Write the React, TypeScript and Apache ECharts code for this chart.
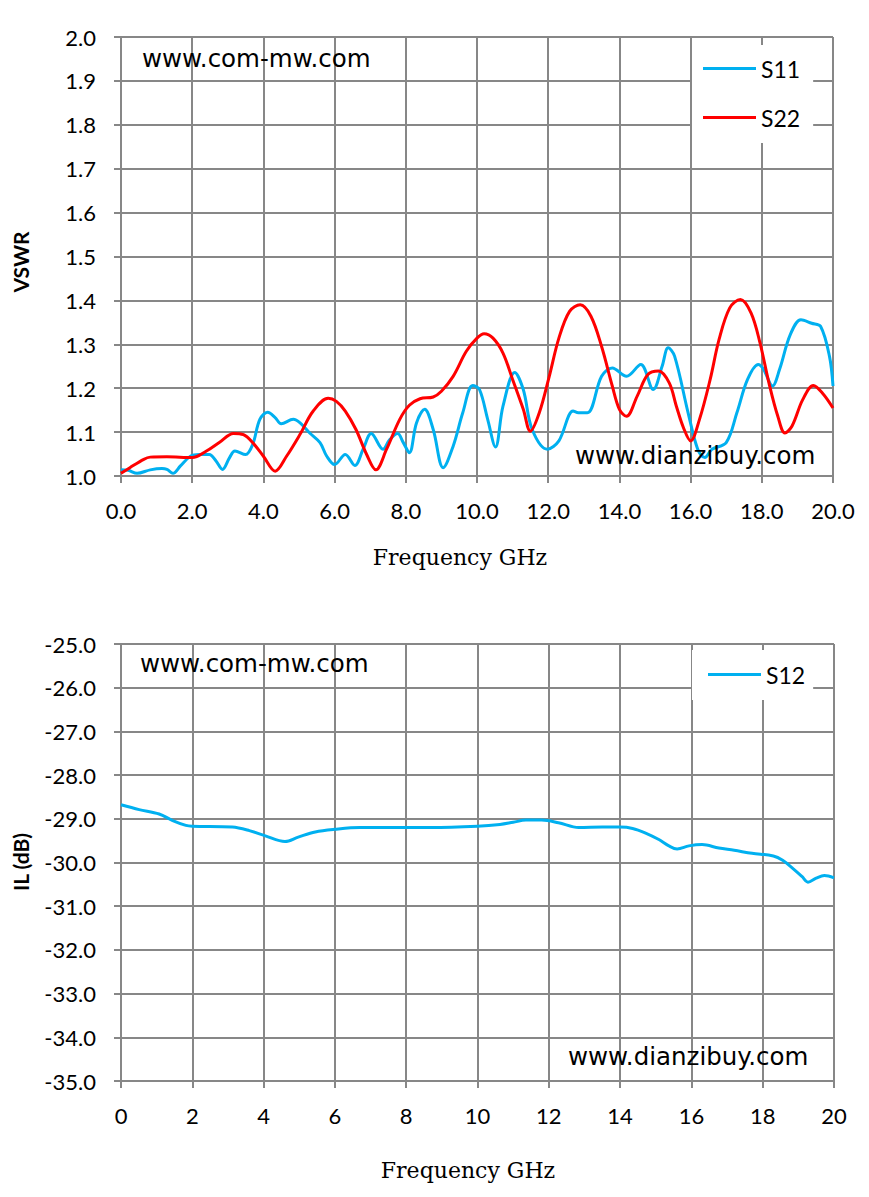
import React, { useEffect, useRef } from "react";
import * as echarts from "echarts";

// ---------- data ----------
const freqTicksTop = [0, 2, 4, 6, 8, 10, 12, 14, 16, 18, 20];
const vswrTicks = [1.0, 1.1, 1.2, 1.3, 1.4, 1.5, 1.6, 1.7, 1.8, 1.9, 2.0];
const ilTicks = [-35, -34, -33, -32, -31, -30, -29, -28, -27, -26, -25];

const s11Freq = [0, 0.2, 0.45, 0.82, 1.15, 1.29, 1.46, 1.67, 1.95, 2.2, 2.48, 2.67, 2.85, 3.05, 3.2, 3.5, 3.7, 3.9, 4.12, 4.33, 4.5, 4.84, 5.03, 5.3, 5.59, 5.78, 6.0, 6.3, 6.57, 6.8, 7.03, 7.36, 7.55, 7.77, 7.93, 8.1, 8.3, 8.53, 8.77, 9.05, 9.33, 9.6, 9.88, 10.07, 10.3, 10.52, 10.73, 11.06, 11.3, 11.55, 11.98, 12.3, 12.7, 12.85, 13.1, 13.5, 13.8, 14.2, 14.6, 14.95, 15.2, 15.37, 15.55, 15.93, 16.2, 16.4, 16.6, 17.0, 17.3, 17.6, 17.9, 18.05, 18.3, 18.5, 18.8, 19.1, 19.4, 19.65, 19.9, 20];
const s11Vals = [1.014, 1.013, 1.006, 1.014, 1.017, 1.015, 1.006, 1.023, 1.045, 1.049, 1.049, 1.034, 1.015, 1.042, 1.057, 1.049, 1.072, 1.129, 1.145, 1.133, 1.119, 1.129, 1.121, 1.098, 1.076, 1.045, 1.026, 1.049, 1.024, 1.061, 1.097, 1.061, 1.083, 1.097, 1.076, 1.053, 1.121, 1.152, 1.106, 1.019, 1.068, 1.144, 1.206, 1.197, 1.129, 1.066, 1.159, 1.236, 1.197, 1.106, 1.061, 1.08, 1.148, 1.144, 1.144, 1.227, 1.246, 1.227, 1.254, 1.197, 1.25, 1.292, 1.273, 1.144, 1.061, 1.042, 1.061, 1.076, 1.144, 1.22, 1.254, 1.243, 1.205, 1.243, 1.322, 1.356, 1.348, 1.341, 1.273, 1.205];

const s22Freq = [0, 0.25, 0.64, 0.82, 1.29, 2.0, 2.4, 2.77, 3.16, 3.44, 3.7, 4.0, 4.33, 4.65, 5.03, 5.4, 5.82, 6.05, 6.3, 6.6, 6.9, 7.16, 7.46, 7.83, 8.1, 8.4, 8.77, 9.0, 9.33, 9.7, 10.0, 10.2, 10.45, 10.73, 11.0, 11.3, 11.5, 11.75, 12.03, 12.3, 12.6, 12.9, 13.2, 13.5, 13.8, 14.0, 14.2, 14.5, 14.8, 15.1, 15.4, 15.6, 15.8, 16.0, 16.25, 16.55, 16.8, 17.1, 17.4, 17.7, 17.95, 18.2, 18.45, 18.65, 18.85, 19.15, 19.45, 19.7, 20];
const s22Vals = [1.006, 1.019, 1.038, 1.043, 1.044, 1.042, 1.057, 1.077, 1.097, 1.094, 1.076, 1.045, 1.011, 1.045, 1.095, 1.148, 1.177, 1.17, 1.148, 1.106, 1.049, 1.014, 1.061, 1.129, 1.161, 1.176, 1.18, 1.193, 1.227, 1.284, 1.314, 1.324, 1.314, 1.28, 1.22, 1.152, 1.102, 1.144, 1.227, 1.314, 1.375, 1.39, 1.364, 1.295, 1.205, 1.152, 1.136, 1.182, 1.231, 1.239, 1.212, 1.159, 1.11, 1.08, 1.129, 1.22, 1.311, 1.383, 1.402, 1.371, 1.303, 1.212, 1.136, 1.098, 1.114, 1.174, 1.206, 1.189, 1.155];

const s12Freq = [0, 0.51, 1.07, 1.45, 1.82, 2, 3.12, 3.6, 4.05, 4.6, 4.97, 5.45, 6, 6.7, 7.8, 8.7, 10, 10.63, 11, 11.36, 11.8, 12.27, 12.84, 13.5, 14, 14.35, 14.7, 15.1, 15.37, 15.6, 15.93, 16.3, 16.77, 17.2, 17.7, 18.3, 18.56, 18.85, 19.1, 19.27, 19.5, 19.73, 20];
const s12Vals = [-28.68, -28.79, -28.89, -29.04, -29.15, -29.17, -29.19, -29.27, -29.39, -29.52, -29.42, -29.3, -29.24, -29.2, -29.2, -29.2, -29.17, -29.13, -29.08, -29.03, -29.03, -29.09, -29.2, -29.19, -29.19, -29.22, -29.32, -29.48, -29.62, -29.69, -29.62, -29.59, -29.67, -29.72, -29.79, -29.85, -29.95, -30.14, -30.32, -30.45, -30.36, -30.3, -30.35];

const pairs = (xs: number[], ys: number[]) => xs.map((x, i) => [x, ys[i]]);

// ---------- styles ----------
const GRID_COLOR = "#878787";
const TICK_FONT = "Lato";
const BLUE = "#00B0F0";
const RED = "#FF0000";

function makeXAxis(gridIndex: number, decimals: number) {
  return {
    type: "value",
    gridIndex,
    min: freqTicksTop[0],
    max: freqTicksTop[freqTicksTop.length - 1],
    interval: freqTicksTop[1] - freqTicksTop[0],
    axisLine: { show: true, lineStyle: { color: GRID_COLOR, width: 2 } },
    axisTick: { show: true, length: 7, lineStyle: { color: GRID_COLOR, width: 2 } },
    splitLine: { show: true, lineStyle: { color: GRID_COLOR, width: 2 } },
    axisLabel: {
      margin: 23,
      fontFamily: TICK_FONT,
      fontSize: 22,
      color: "#000",
      formatter: (v: number) => v.toFixed(decimals),
    },
  };
}

function makeYAxis(gridIndex: number, ticks: number[]) {
  return {
    type: "value",
    gridIndex,
    min: ticks[0],
    max: ticks[ticks.length - 1],
    interval: ticks[1] - ticks[0],
    axisLine: { show: true, lineStyle: { color: GRID_COLOR, width: 2 } },
    axisTick: { show: true, length: 7, lineStyle: { color: GRID_COLOR, width: 2 } },
    splitLine: { show: true, lineStyle: { color: GRID_COLOR, width: 2 } },
    axisLabel: {
      margin: 25,
      fontFamily: TICK_FONT,
      fontSize: 22,
      color: "#000",
      formatter: (v: number) => v.toFixed(1),
    },
  };
}

export default function App() {
  const ref = useRef<HTMLDivElement>(null);

  useEffect(() => {
    if (!ref.current) return;
    const chart = echarts.init(ref.current, null, { renderer: "svg" });
    const wmFont = { fontFamily: "DejaVu Sans", fontSize: 24.5, fill: "#000" };
    const titleFont = {
      fontFamily: "DejaVu Serif",
      fontSize: 22,
      fill: "#000",
      align: "center",
      verticalAlign: "middle",
    };
    const option = {
      animation: false,
      backgroundColor: "#fff",
      grid: [
        { left: 121, top: 37, width: 712, height: 439, containLabel: false },
        { left: 121, top: 644, width: 713, height: 437, containLabel: false },
      ],
      xAxis: [makeXAxis(0, 1), makeXAxis(1, 0)],
      yAxis: [
        { ...makeYAxis(0, vswrTicks), interval: 0.1 },
        makeYAxis(1, ilTicks),
      ],
      legend: [
        {
          data: ["S11", "S22"],
          orient: "vertical",
          left: 692,
          top: 45,
          padding: [11, 13, 13, 11],
          itemGap: 24,
          itemWidth: 53,
          itemHeight: 3,
          icon: "rect",
          backgroundColor: "#fff",
          textStyle: { fontFamily: TICK_FONT, fontSize: 23, color: "#000", lineHeight: 25 },
        },
        {
          data: ["S12"],
          orient: "vertical",
          left: 692,
          top: 650,
          padding: [12, 8, 13, 16],
          itemWidth: 53,
          itemHeight: 3,
          icon: "rect",
          backgroundColor: "#fff",
          textStyle: { fontFamily: TICK_FONT, fontSize: 23, color: "#000", lineHeight: 25 },
        },
      ],
      series: [
        {
          name: "S11",
          type: "line",
          xAxisIndex: 0,
          yAxisIndex: 0,
          data: pairs(s11Freq, s11Vals),
          showSymbol: false,
          smooth: 0.35,
          lineStyle: { color: BLUE, width: 3 },
          itemStyle: { color: BLUE },
          z: 3,
        },
        {
          name: "S22",
          type: "line",
          xAxisIndex: 0,
          yAxisIndex: 0,
          data: pairs(s22Freq, s22Vals),
          showSymbol: false,
          smooth: 0.35,
          lineStyle: { color: RED, width: 3 },
          itemStyle: { color: RED },
          z: 3,
        },
        {
          name: "S12",
          type: "line",
          xAxisIndex: 1,
          yAxisIndex: 1,
          data: pairs(s12Freq, s12Vals),
          showSymbol: false,
          smooth: 0.35,
          lineStyle: { color: BLUE, width: 3 },
          itemStyle: { color: BLUE },
          z: 3,
        },
      ],
      graphic: [
        { type: "text", left: 142, top: 46, style: { text: "www.com-mw.com", ...wmFont }, z: 10 },
        { type: "text", left: 575, top: 443, style: { text: "www.dianzibuy.com", ...wmFont }, z: 10 },
        { type: "text", left: 140, top: 651, style: { text: "www.com-mw.com", ...wmFont }, z: 10 },
        { type: "text", left: 568, top: 1044, style: { text: "www.dianzibuy.com", ...wmFont }, z: 10 },
        {
          type: "text",
          x: 20,
          y: 262,
          rotation: Math.PI / 2,
          style: {
            text: "VSWR",
            fontFamily: TICK_FONT,
            fontWeight: "bold",
            fontSize: 21,
            fill: "#000",
            align: "center",
            verticalAlign: "middle",
          },
        },
        {
          type: "text",
          x: 20,
          y: 862,
          rotation: Math.PI / 2,
          style: {
            text: "IL (dB)",
            fontFamily: TICK_FONT,
            fontWeight: "bold",
            fontSize: 21,
            fill: "#000",
            align: "center",
            verticalAlign: "middle",
          },
        },
        { type: "text", x: 460, y: 557, style: { text: "Frequency GHz", ...titleFont } },
        { type: "text", x: 468, y: 1170, style: { text: "Frequency GHz", ...titleFont } },
      ],
    };
    chart.setOption(option as any);
    return () => chart.dispose();
  }, []);

  return (
    <div
      ref={ref}
      style={{ position: "absolute", left: 0, top: 0, width: 869, height: 1197, background: "#fff" }}
    />
  );
}
